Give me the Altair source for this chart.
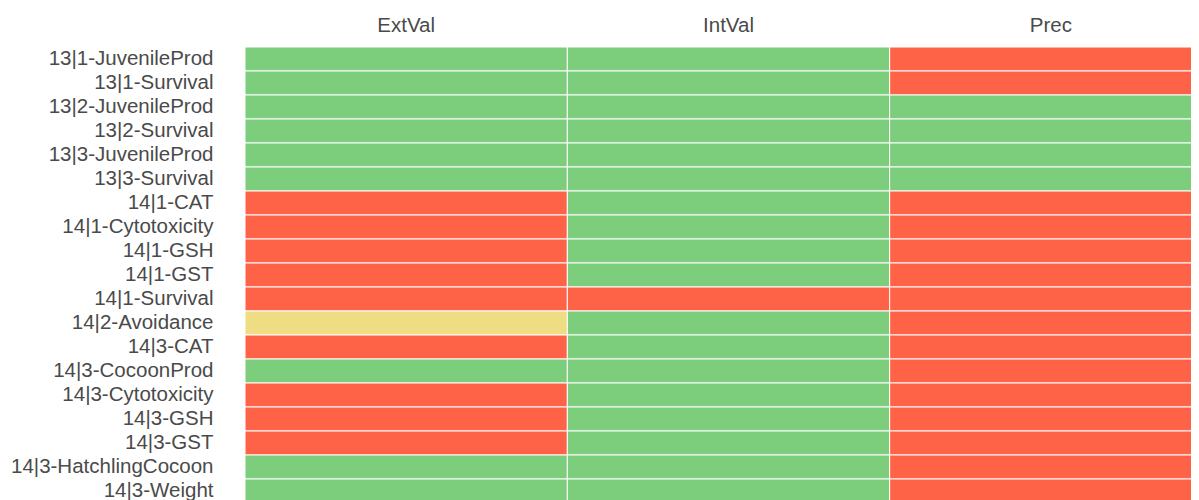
import altair as alt
import pandas as pd

rows = [
    "13|1-JuvenileProd", "13|1-Survival", "13|2-JuvenileProd", "13|2-Survival",
    "13|3-JuvenileProd", "13|3-Survival", "14|1-CAT", "14|1-Cytotoxicity",
    "14|1-GSH", "14|1-GST", "14|1-Survival", "14|2-Avoidance", "14|3-CAT",
    "14|3-CocoonProd", "14|3-Cytotoxicity", "14|3-GSH", "14|3-GST",
    "14|3-HatchlingCocoon", "14|3-Weight",
]
columns = ["ExtVal", "IntVal", "Prec"]

ext_val = ["G", "G", "G", "G", "G", "G", "R", "R", "R", "R", "R", "Y", "R", "G", "R", "R", "R", "G", "G"]
int_val = ["G", "G", "G", "G", "G", "G", "G", "G", "G", "G", "R", "G", "G", "G", "G", "G", "G", "G", "G"]
prec    = ["R", "R", "G", "G", "G", "G", "R", "R", "R", "R", "R", "R", "R", "R", "R", "R", "R", "R", "R"]

status_codes = ["G", "Y", "R"]
status_colors = ["#7CCD7C", "#EEDD82", "#FF6347"]

records = []
for col, vals in zip(columns, [ext_val, int_val, prec]):
    for r, v in zip(rows, vals):
        records.append({"row": r, "col": col, "status": v})
df = pd.DataFrame(records)

chart = alt.Chart(df).mark_rect(stroke="white", strokeWidth=1).encode(
    x=alt.X("col:N", sort=columns, title=None,
            scale=alt.Scale(paddingInner=0, paddingOuter=0),
            axis=alt.Axis(orient="top", labelAngle=0, ticks=False, domain=False,
                          labelFontSize=20.5, labelFont="Liberation Sans",
                          labelColor="#4a4a4a", labelPadding=12)),
    y=alt.Y("row:N", sort=rows, title=None,
            scale=alt.Scale(paddingInner=0, paddingOuter=0),
            axis=alt.Axis(ticks=False, domain=False, labelFontSize=20.5,
                          labelFont="Liberation Sans", labelColor="#4a4a4a",
                          labelPadding=32, labelLimit=400)),
    color=alt.Color("status:N", scale=alt.Scale(domain=status_codes, range=status_colors),
                    legend=None),
).properties(
    width=967, height=456,
    autosize=alt.AutoSizeParams(type="none"),
    padding={"left": 237, "top": 39, "right": -21, "bottom": -3},
).configure_view(stroke=None)

chart.save("out.html", embed_options={"renderer": "svg", "actions": False})
